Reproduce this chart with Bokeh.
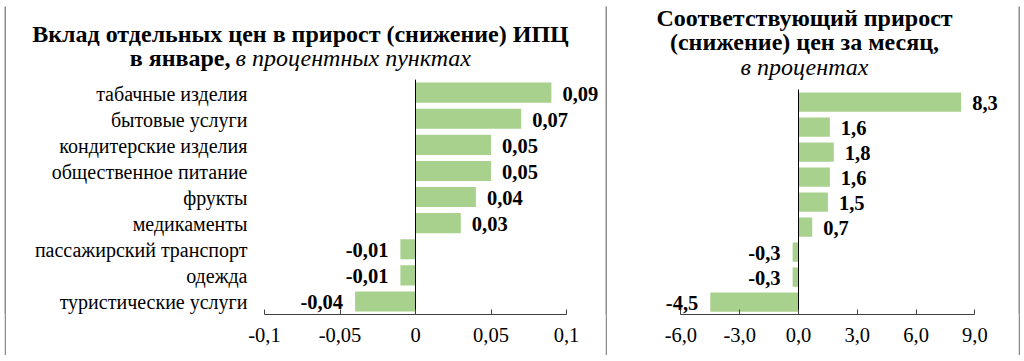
from bokeh.plotting import figure
from bokeh.models import Range1d, FixedTicker, ColumnDataSource, Spacer
from bokeh.layouts import row, column
from bokeh.embed import file_html
from bokeh.resources import INLINE

categories = ["табачные изделия", "бытовые услуги", "кондитерские изделия",
              "общественное питание", "фрукты", "медикаменты",
              "пассажирский транспорт", "одежда", "туристические услуги"]
contrib = [0.09, 0.07, 0.05, 0.05, 0.04, 0.03, -0.01, -0.01, -0.04]
growth = [8.3, 1.6, 1.8, 1.6, 1.5, 0.7, -0.3, -0.3, -4.5]
left_ticks = [-0.1, -0.05, 0, 0.05, 0.1]
left_tick_labels = ["-0,1", "-0,05", "0", "0,05", "0,1"]
right_ticks = [-6, -3, 0, 3, 6, 9]
right_tick_labels = ["-6,0", "-3,0", "0,0", "3,0", "6,0", "9,0"]
left_title_1 = "Вклад отдельных цен в прирост (снижение) ИПЦ"
left_title_2a = "в январе,"
left_title_2b = "в процентных пунктах"
right_title_1 = "Соответствующий прирост"
right_title_2 = "(снижение) цен за месяц,"
right_title_3 = "в процентах"

FONT = "Liberation Serif, Times New Roman, serif"
BAR = "#A9D18E"
AXIS = "#404040"
FRAME = "#8c8c8c"
B = 2                 # border thickness, px
W1, W2 = 599, 411     # panel widths, px
PH = 349              # panel height, px
AX_H = 41             # room under the axis line, px
FH = PH - AX_H        # frame height, px
N = len(categories)


def fmt(v, nd):
    return f"{v:.{nd}f}".replace(".", ",")


def blank(width, height, fill):
    p = figure(width=width, height=height, x_range=Range1d(0, 1), y_range=Range1d(0, 1),
               output_backend="svg", toolbar_location=None,
               x_axis_type=None, y_axis_type=None, min_border=0,
               min_border_left=0, min_border_right=0, min_border_top=0, min_border_bottom=0)
    p.outline_line_color = None
    p.background_fill_color = fill
    p.border_fill_color = fill
    p.grid.visible = False
    return p


def make_panel(vals, nd, width, px0, ppu, row_px, ticks, tick_labels, titles, show_cats):
    # px0: canvas x of the value 0; ppu: pixels per unit; row_px: pixels per category row
    x_of = lambda px: (px - px0) / ppu
    y_of = lambda py: (FH - py) / row_px
    p = figure(width=width, height=PH, x_range=Range1d(x_of(0), x_of(width)),
               y_range=Range1d(0, FH / row_px), output_backend="svg",
               toolbar_location=None, y_axis_type=None,
               min_border_left=0, min_border_right=0, min_border_top=0,
               min_border_bottom=AX_H)
    p.outline_line_color = None
    p.grid.visible = False
    p.background_fill_color = "white"
    p.border_fill_color = "white"

    ys = [N - i - 0.5 for i in range(N)]
    p.hbar(y=ys, left=0, right=vals, height=0.77, color=BAR, line_color=None)
    p.segment(x0=[0], y0=[0], x1=[0], y1=[N], line_color="black", line_width=1)

    pos = ColumnDataSource(dict(y=[y for y, v in zip(ys, vals) if v >= 0],
                                x=[v for v in vals if v >= 0],
                                t=[fmt(v, nd) for v in vals if v >= 0]))
    neg = ColumnDataSource(dict(y=[y for y, v in zip(ys, vals) if v < 0],
                                x=[v for v in vals if v < 0],
                                t=[fmt(v, nd) for v in vals if v < 0]))
    for src, align, off in ((pos, "left", 11), (neg, "right", -12)):
        p.text(x="x", y="y", text="t", source=src, text_align=align, x_offset=off,
               y_offset=1, text_baseline="middle", text_font=FONT,
               text_font_style="bold", text_font_size="20.5px", text_color="black")

    if show_cats:
        p.text(x=[ticks[0]] * N, y=ys, text=categories, text_align="right", x_offset=-17,
               y_offset=1, text_baseline="middle", text_font=FONT,
               text_font_size="20px", text_color="black")

    for (px, py, text, style, align) in titles:
        p.text(x=[x_of(px)], y=[y_of(py)], text=[text], text_font=FONT,
               text_font_style=style, text_font_size="24px", text_align=align,
               text_baseline="middle", text_color="black")

    ax = p.xaxis[0]
    ax.bounds = (ticks[0], ticks[-1])
    ax.ticker = FixedTicker(ticks=ticks)
    ax.major_label_overrides = dict(zip(ticks, tick_labels))
    ax.minor_tick_line_color = None
    ax.major_tick_in = 5
    ax.major_tick_out = 0
    ax.axis_line_color = AXIS
    ax.major_tick_line_color = AXIS
    ax.major_label_standoff = 13
    ax.major_label_text_font = FONT
    ax.major_label_text_font_size = "20.5px"
    ax.major_label_text_color = "black"
    return p


m1 = make_panel(contrib, 2, W1, px0=409, ppu=1510, row_px=26.1,
                ticks=left_ticks, tick_labels=left_tick_labels,
                titles=[(294, 27, left_title_1, "bold", "center"),
                        (224, 51, left_title_2a, "bold", "right"),
                        (229, 51, left_title_2b, "italic", "left")],
                show_cats=True)
m2 = make_panel(growth, 1, W2, px0=191, ppu=19.6, row_px=25.0,
                ticks=right_ticks, tick_labels=right_tick_labels,
                titles=[(197, 11, right_title_1, "bold", "center"),
                        (197, 35, right_title_2, "bold", "center"),
                        (197, 60, right_title_3, "italic", "center")],
                show_cats=False)

total_w = 3 * B + W1 + W2
framed = column(
    blank(total_w, B, FRAME),
    row(blank(B, PH, FRAME), m1, blank(B, PH, FRAME), m2, blank(B, PH, FRAME)),
    blank(total_w, B, FRAME),
)
layout = column(Spacer(width=4, height=4), row(Spacer(width=4, height=PH + 2 * B), framed))
open("out.html", "w").write(file_html(layout, INLINE))
